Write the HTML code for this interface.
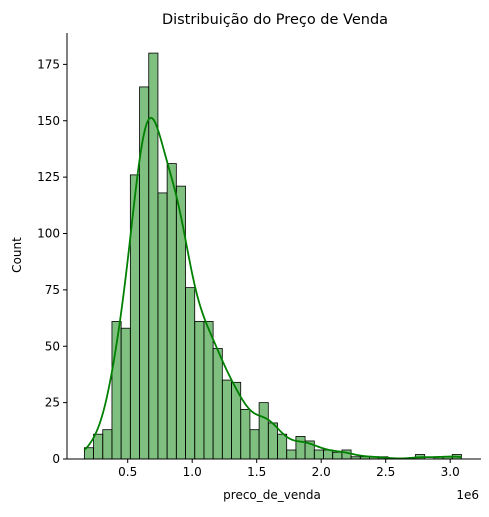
<!DOCTYPE html>
<html><head><meta charset="utf-8"><style>
body{margin:0;background:#fff;font-family:"Liberation Sans","DejaVu Sans",sans-serif}
svg text{font-family:"DejaVu Sans","Liberation Sans",sans-serif}
</style></head><body>
<svg id="chart" width="489" height="512" xmlns="http://www.w3.org/2000/svg">
<text x="275" y="24" font-size="14.5" text-anchor="middle" fill="#000">Distribuição do Preço de Venda</text>
<g id="bars"></g>
<path id="kde" fill="none" stroke="#008000" stroke-width="1.8"/>
<g id="axes"></g>
<text transform="translate(21,255) rotate(-90)" font-size="12" text-anchor="middle">Count</text>
<text x="272" y="499" font-size="12" text-anchor="middle">preco_de_venda</text>
<text x="479" y="499" font-size="12" text-anchor="end">1e6</text>
</svg>
<script>
const binStart = 0.164;
const binWidth = 0.0713;
const counts = [5,11,13,61,58,126,165,180,118,131,121,76,61,61,49,35,34,22,13,25,16,11,4,10,8,4,4,3,4,1,1,1,1,0,0,0,2,0,1,1,2];
const xTicks = [0.5,1.0,1.5,2.0,2.5,3.0];
const yTicks = [0,25,50,75,100,125,150,175];
const NS="http://www.w3.org/2000/svg";
const L=67,R=481,B=459,T=33;
const x=v=>127.7+(v-0.5)*129;
const y=c=>B-c*2.255;
const bars=document.getElementById('bars');
counts.forEach((c,i)=>{
  const r=document.createElementNS(NS,'rect');
  const x0=x(binStart+i*binWidth),x1=x(binStart+(i+1)*binWidth);
  r.setAttribute('x',x0);r.setAttribute('width',x1-x0);
  r.setAttribute('y',y(c));r.setAttribute('height',B-y(c));
  r.setAttribute('fill',c>0?'rgba(0,128,0,0.5)':'none');
  r.setAttribute('stroke','#000');r.setAttribute('stroke-width',c>0?'0.8':'0');
  
  
  bars.appendChild(r);
});
const N=counts.reduce((a,b)=>a+b,0);
const h=0.085;
let d='';
const lo=binStart, hi=binStart+counts.length*binWidth;
for(let k=0;k<=300;k++){
  const v=lo+(hi-lo)*k/300;
  let s=0;
  counts.forEach((c,i)=>{const m=binStart+(i+0.5)*binWidth;const z=(v-m)/h;s+=c*Math.exp(-0.5*z*z);});
  const dens=s/(N*h*Math.sqrt(2*Math.PI));
  const cc=dens*N*binWidth;
  d+=(k?'L':'M')+x(v).toFixed(2)+','+y(cc).toFixed(2);
}
document.getElementById('kde').setAttribute('d',d);
const ax=document.getElementById('axes');
function ln(x1,y1,x2,y2,name){const l=document.createElementNS(NS,'line');l.setAttribute('x1',x1);l.setAttribute('y1',y1);l.setAttribute('x2',x2);l.setAttribute('y2',y2);l.setAttribute('stroke','#000');l.setAttribute('stroke-width','1');


ax.appendChild(l);}
function tx(x0,y0,s,anc,name){const t=document.createElementNS(NS,'text');t.setAttribute('x',x0);t.setAttribute('y',y0);t.setAttribute('font-size','12');t.setAttribute('text-anchor',anc);t.textContent=s;


ax.appendChild(t);}
ln(L,T,L,B,'y-axis-line');ln(L,B,R,B,'x-axis-line');
xTicks.forEach(v=>{ln(x(v),B,x(v),B+4,'x-tick');tx(x(v),B+17,v.toFixed(1),'middle','x-tick-label');});
yTicks.forEach(v=>{ln(L-4,y(v),L,y(v),'y-tick');tx(L-7,y(v)+4,String(v),'end','y-tick-label');});
</script>
</body></html>
